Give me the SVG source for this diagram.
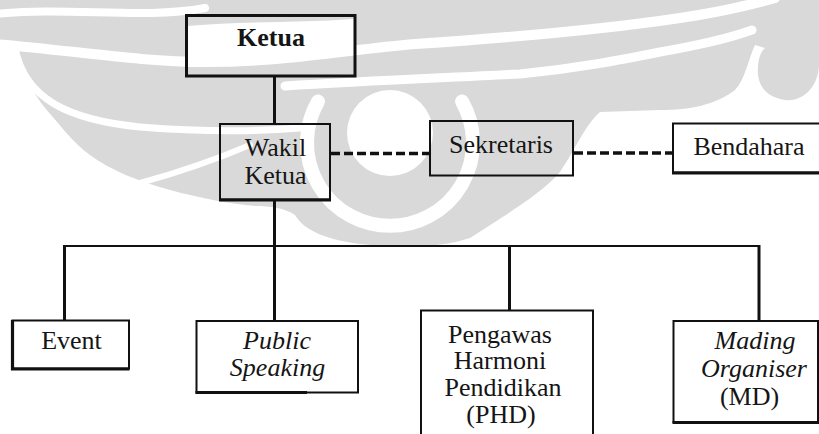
<svg xmlns="http://www.w3.org/2000/svg" width="819" height="434" viewBox="0 0 819 434">
<style>
.box{fill:none;stroke:#111;stroke-width:2}
.thick{stroke:#111;stroke-width:3.2}
text{font-family:'Liberation Serif','DejaVu Serif',serif;font-size:26px;fill:#151515;text-anchor:middle}
.b{font-weight:bold}
.i{font-style:italic}
.conn{stroke:#111;fill:none}
.wm{fill:none;stroke:#fff;stroke-linecap:round}
</style>
<rect width="819" height="434" fill="#fff"/>
<g id="watermark">
<path fill="#d9d9d9" d="M0,0 H819 V65 C818,90 800,102 785,100 C770,98 760,90 758,75 C757,62 760,52 765,48 L755,45 C748,60 745,80 735,90 C715,105 690,110 660,110 L600,112 C585,125 575,150 560,172 C540,195 505,215 470,238 C440,248 400,248 360,244 C330,240 305,232 295,215 C285,208 270,206 255,206 C230,204 200,198 170,190 C140,182 110,170 90,155 C75,145 60,125 45,108 C32,92 22,70 15,50 C10,45 5,42 0,40 Z"/>
<path fill="#fff" d="M188,26 C240,21 300,23 354,19 L354,52 C300,56 240,58 188,60 Z"/>
<path class="wm" stroke-width="8" d="M-5,14 C70,6 140,20 205,8"/>
<path class="wm" stroke-width="10" d="M-5,44 C70,50 140,62 205,62 C285,62 345,50 415,44 C505,38 600,30 680,18 C720,12 750,5 775,-2"/>
<path class="wm" stroke-width="9" d="M285,86 C360,81 440,78 520,74 C580,68 620,60 660,52 C700,45 730,38 752,30"/>
<path class="wm" stroke-width="7" d="M15,48 C25,100 70,120 140,127 C190,131 240,133 300,128"/>
<path class="wm" stroke-width="6" d="M140,183 C180,172 215,160 250,145"/>
<circle cx="390" cy="133" r="43" fill="#fff"/>
<path class="wm" stroke-width="14" stroke-linecap="butt" d="M318,101.5 A83,83 0 1,0 462,101.5"/>
</g>
<g id="connectors">
<line class="conn" stroke-width="3" x1="274.5" y1="76" x2="274.5" y2="124"/>
<line class="conn" stroke-width="3" x1="274.5" y1="200" x2="274.5" y2="246"/>
<line class="conn" stroke-width="3.5" stroke-dasharray="9 4" x1="331" y1="153.5" x2="430" y2="153.5"/>
<line class="conn" stroke-width="3.5" stroke-dasharray="9 4" x1="574" y1="153" x2="673" y2="153"/>
<path class="conn" stroke-width="2.2" d="M64.5,246 H759"/>
<line class="conn" stroke-width="3" x1="64.5" y1="245" x2="64.5" y2="320"/>
<line class="conn" stroke-width="3" x1="274.5" y1="246" x2="274.5" y2="321"/>
<line class="conn" stroke-width="3" x1="509.5" y1="246" x2="509.5" y2="311"/>
<line class="conn" stroke-width="3" x1="759" y1="245" x2="759" y2="321"/>
</g>
<g id="ketua">
<rect x="186.5" y="15.5" width="168.5" height="60.5" fill="none" stroke="#111" stroke-width="3"/>
<text class="b" x="271" y="46" font-family="Liberation Serif, serif">Ketua</text>
</g>
<g id="wakil" font-family="Liberation Serif, serif">
<rect class="box" x="220" y="124" width="110" height="75.5"/>
<line class="thick" x1="219" y1="200" x2="331" y2="200"/>
<text x="275.5" y="155.5">Wakil</text>
<text x="275.5" y="184">Ketua</text>
</g>
<g id="sekretaris">
<rect class="box" x="430" y="121" width="143" height="54.5"/>
<text x="501" y="152.5">Sekretaris</text>
</g>
<g id="bendahara">
<rect class="box" x="673" y="123.5" width="160" height="49"/>
<line class="thick" x1="672" y1="173" x2="819" y2="173"/>
<text x="749" y="155">Bendahara</text>
</g>
<g id="event">
<rect class="box" x="12.5" y="320.5" width="116.5" height="48"/>
<line class="thick" x1="12.5" y1="320" x2="12.5" y2="370"/>
<line class="thick" x1="11" y1="369" x2="129.5" y2="369"/>
<text x="71.5" y="349">Event</text>
</g>
<g id="public-speaking">
<rect class="box" x="196.5" y="321" width="161.5" height="71.5"/>
<line class="thick" x1="195.5" y1="392.5" x2="307" y2="392.5"/>
<text class="i" x="277" y="349">Public</text>
<text class="i" x="277.5" y="376">Speaking</text>
</g>
<g id="phd">
<rect class="box" x="421" y="310.5" width="172" height="140"/>
<text x="500" y="342.5">Pengawas</text>
<text x="500" y="369">Harmoni</text>
<text x="503" y="395.5">Pendidikan</text>
<text x="501" y="423">(PHD)</text>
</g>
<g id="mading">
<rect class="box" x="673.5" y="321" width="144.5" height="101"/>
<line class="thick" x1="672.5" y1="422.5" x2="819" y2="422.5"/>
<text class="i" x="755" y="349">Mading</text>
<text class="i" x="754" y="376.5">Organiser</text>
<text x="749.5" y="405">(MD)</text>
</g>
</svg>
